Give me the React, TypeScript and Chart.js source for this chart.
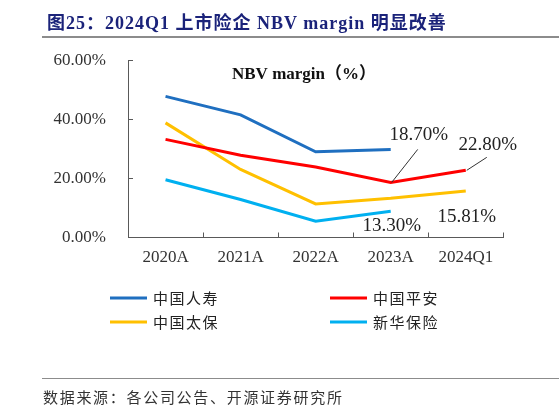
import React, { useEffect, useRef } from 'react';
import { Chart, registerables } from 'chart.js';

Chart.register(...registerables);

const categories = ['2020A', '2021A', '2022A', '2023A', '2024Q1'];
const seriesNames = ['中国人寿', '中国平安', '中国太保', '新华保险'];
const chinaLife = [47.9, 41.6, 29.1, 29.9, null];
const pingAn = [33.3, 27.9, 23.9, 18.7, 22.8];
const cpic = [38.9, 23.1, 11.4, 13.3, 15.81];
const newChina = [19.6, 12.9, 5.5, 8.9, null];
const yMin = 0;
const yMax = 60;
const yStep = 20;
const seriesColors = ['#1f6fc0', '#ff0000', '#ffc000', '#00b0f0'];
// points that carry a value label: [series index, category index]
const labelledPoints: [number, number][] = [[1, 3], [1, 4], [2, 3], [2, 4]];

const chartTitle = 'NBV margin（%）';
const figureTitle = '图25：2024Q1 上市险企 NBV margin 明显改善';
const sourceText = '数据来源：各公司公告、开源证券研究所';

const SERIF = '"Liberation Serif", "Times New Roman", serif';
const CJK = '"Noto Sans CJK SC", sans-serif';

// label placement relative to its point (style, not data)
const labelOffsets = [
  { dx: 28, dy: -47, lx: 27, ly: -33 },
  { dx: 22, dy: -25, lx: 21, ly: -13 },
  { dx: 1, dy: 28 },
  { dx: 1, dy: 26 },
];

const overlayPlugin = {
  id: 'overlay',
  afterDatasetsDraw(chart: any) {
    const ctx = chart.ctx;
    ctx.save();
    // chart title
    ctx.fillStyle = '#111';
    ctx.font = `bold 17px ${SERIF}, ${CJK}`;
    ctx.textAlign = 'center';
    ctx.textBaseline = 'middle';
    ctx.fillText(chartTitle, 304, 75);

    // value labels
    labelledPoints.forEach(([si, ci], k) => {
      const meta = chart.getDatasetMeta(si);
      const pt = meta.data[ci];
      const v = chart.data.datasets[si].data[ci];
      const o: any = labelOffsets[k];
      if (o.lx !== undefined) {
        ctx.strokeStyle = '#333';
        ctx.lineWidth = 1;
        ctx.beginPath();
        ctx.moveTo(pt.x + 1, pt.y);
        ctx.lineTo(pt.x + o.lx, pt.y + o.ly);
        ctx.stroke();
      }
      ctx.fillStyle = '#222';
      ctx.font = `19px ${SERIF}`;
      ctx.textAlign = 'center';
      ctx.textBaseline = 'middle';
      ctx.fillText(Number(v).toFixed(2) + '%', pt.x + o.dx, pt.y + o.dy);
    });

    // legend (2 x 2)
    chart.data.datasets.forEach((ds: any, i: number) => {
      const col = i % 2;
      const row = Math.floor(i / 2);
      const x0 = col === 0 ? 110 : 330;
      const y = row === 0 ? 298 : 322;
      ctx.strokeStyle = ds.borderColor;
      ctx.lineWidth = 3;
      ctx.beginPath();
      ctx.moveTo(x0, y);
      ctx.lineTo(x0 + 37, y);
      ctx.stroke();
      ctx.fillStyle = '#222';
      ctx.font = `15px ${CJK}`;
      (ctx as any).letterSpacing = '1.5px';
      ctx.textAlign = 'left';
      ctx.textBaseline = 'middle';
      ctx.fillText(ds.label, x0 + 43, y);
      (ctx as any).letterSpacing = '0px';
    });
    ctx.restore();
  },
};

export default function App() {
  const canvasRef = useRef<HTMLCanvasElement | null>(null);

  useEffect(() => {
    document.body.style.margin = '0';
    const canvas = canvasRef.current;
    if (!canvas) return;
    const seriesData = [chinaLife, pingAn, cpic, newChina];
    const chart = new Chart(canvas, {
      type: 'line',
      data: {
        labels: categories,
        datasets: seriesNames.map((name, i) => ({
          label: name,
          data: seriesData[i],
          borderColor: seriesColors[i],
          backgroundColor: seriesColors[i],
          borderWidth: 3,
          pointRadius: 0,
          tension: 0,
          spanGaps: false,
        })),
      },
      options: {
        responsive: false,
        animation: false,
        devicePixelRatio: 1,
        layout: { padding: { left: 0, right: 55.7, top: 60.7, bottom: 142.5 } },
        plugins: {
          legend: { display: false },
          title: { display: false },
          tooltip: { enabled: false },
        },
        scales: {
          x: {
            type: 'category',
            offset: true,
            afterFit: (s: any) => { s.height = 40; },
            grid: { drawOnChartArea: false, offset: true, tickLength: -5, color: '#595959', lineWidth: 1 },
            border: { color: '#595959', width: 1 },
            ticks: {
              padding: 15,
              color: '#333',
              maxRotation: 0,
              autoSkip: false,
              font: { family: SERIF, size: 17 },
            },
          },
          y: {
            min: yMin,
            max: yMax,
            afterFit: (s: any) => { s.width = 128; },
            grid: { drawOnChartArea: false, tickLength: -5, color: '#595959', lineWidth: 1 },
            border: { color: '#595959', width: 1 },
            ticks: {
              stepSize: yStep,
              padding: 27,
              color: '#333',
              font: { family: SERIF, size: 17 },
              callback: (v: any) => Number(v).toFixed(2) + '%',
            },
          },
        },
      },
      plugins: [overlayPlugin],
    });
    return () => chart.destroy();
  }, []);

  return (
    <div style={{ position: 'fixed', left: 0, top: 0, width: 559, height: 420, background: '#fff', overflow: 'hidden' }}>
      <canvas ref={canvasRef} width={559} height={420} style={{ position: 'absolute', left: 0, top: 0, width: 559, height: 420 }} />
      <div style={{ position: 'absolute', left: 47, top: 12, whiteSpace: 'nowrap', fontFamily: `${SERIF}, ${CJK}`, fontWeight: 'bold', fontSize: 18, letterSpacing: '1px', color: '#1b237a', lineHeight: '22px' }}>
        {figureTitle}
      </div>
      <div style={{ position: 'absolute', left: 42, top: 36, width: 517, height: 2, background: '#8c8c8c' }} />
      <div style={{ position: 'absolute', left: 42, top: 378, width: 517, height: 1, background: '#8c8c8c' }} />
      <div style={{ position: 'absolute', left: 43, top: 387, whiteSpace: 'nowrap', fontFamily: CJK, fontSize: 15, letterSpacing: '1.7px', color: '#333', lineHeight: '20px' }}>
        {sourceText}
      </div>
    </div>
  );
}
